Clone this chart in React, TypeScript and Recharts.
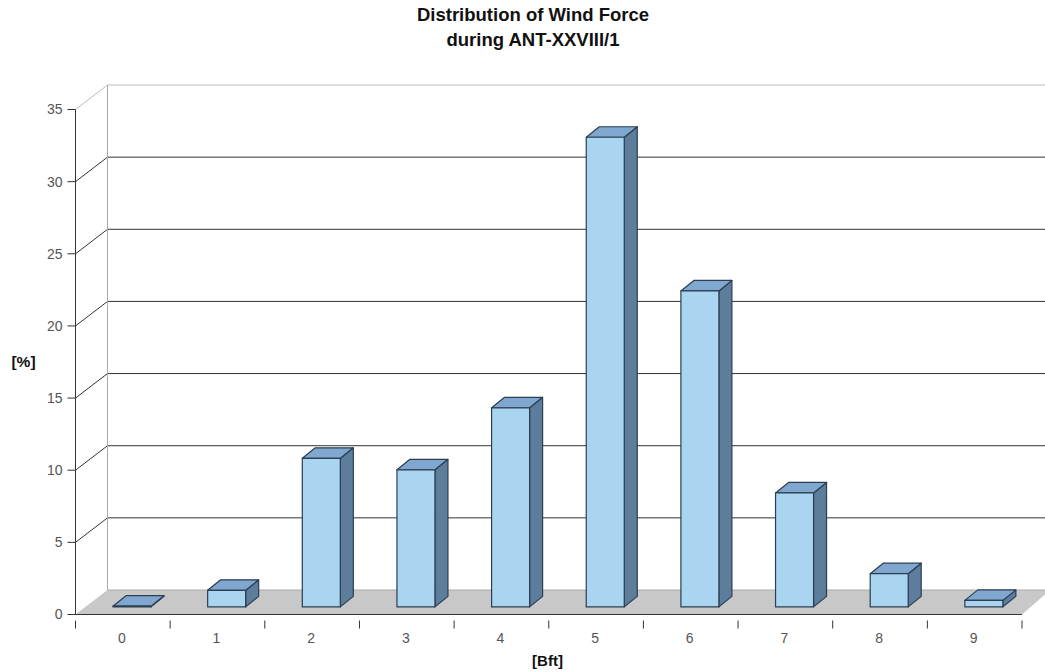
import { BarChart, Bar, XAxis, YAxis, CartesianGrid } from "recharts";

// Share of observations per Beaufort force, in percent.
const forces = ["0", "1", "2", "3", "4", "5", "6", "7", "8", "9"];
const shares = [0.05, 1.15, 10.3, 9.5, 13.8, 32.55, 21.9, 7.9, 2.3, 0.45];
const percentTicks = [0, 5, 10, 15, 20, 25, 30, 35];

const WIDTH = 1045;
const HEIGHT = 672;
const MARGIN = { top: 109.5, right: 23, bottom: 0, left: 0 };
const AXIS_LEFT = 75.5;
const AXIS_BOTTOM = 57.5;
const BAND = (WIDTH - AXIS_LEFT - MARGIN.right) / forces.length;

// Fake 3D: how far the back wall sits behind the front plane.
const WALL_DX = 32;
const WALL_DY = -24.5;
// Bars stand partway onto the floor and have their own depth.
const BAR_DX = 9.5;
const BAR_DY = -7.6;
const DEPTH_DX = 13;
const DEPTH_DY = -10.5;

const FONT = "'Liberation Sans', Arial, sans-serif";

type GridLineProps = { x1: number; y1: number; x2: number; y2: number; key?: string };

// Each tick gets a diagonal on the side wall and a line along the back wall.
// The zero tick becomes the floor, the top tick also closes the wall.
function WallLine(props: GridLineProps) {
  const { x1, y1 } = props;
  const backX = x1 + WALL_DX;
  const backY = y1 + WALL_DY;
  const zeroY = MARGIN.top + (HEIGHT - AXIS_BOTTOM - MARGIN.top);

  if (Math.abs(y1 - zeroY) < 1) {
    return (
      <g>
        <polygon
          points={`${x1},${y1} ${backX},${backY} ${WIDTH + 5},${backY} ${WIDTH - 23},${y1}`}
          fill="#c8c8c8"
        />
        <line x1={backX} y1={backY} x2={WIDTH} y2={backY} stroke="#aaaaaa" />
      </g>
    );
  }

  const isTop = y1 < MARGIN.top + 1;
  const color = isTop ? "#bbbbbb" : "#333333";
  return (
    <g>
      {isTop && <line x1={backX} y1={backY} x2={backX} y2={zeroY + WALL_DY} stroke="#aaaaaa" />}
      <line x1={x1} y1={y1} x2={backX} y2={backY} stroke={color} />
      <line x1={backX} y1={backY} x2={WIDTH} y2={backY} stroke={color} />
    </g>
  );
}

// Cuboid bar: front face, top face and right side face.
function Cuboid(props: any) {
  const x = props.x + BAR_DX;
  const y = props.y + BAR_DY;
  const w = props.width;
  const h = props.height;
  const edge = { stroke: "#2c3e50", strokeWidth: 1.2, strokeLinejoin: "round" as const };
  return (
    <g>
      <polygon
        points={`${x + w},${y} ${x + w + DEPTH_DX},${y + DEPTH_DY} ${x + w + DEPTH_DX},${y + h + DEPTH_DY} ${x + w},${y + h}`}
        fill="#5c7d9c"
        {...edge}
      />
      <polygon
        points={`${x},${y} ${x + DEPTH_DX},${y + DEPTH_DY} ${x + w + DEPTH_DX},${y + DEPTH_DY} ${x + w},${y}`}
        fill="#7fa7cf"
        {...edge}
      />
      <rect x={x} y={y} width={w} height={h} fill="#aad5f1" {...edge} />
    </g>
  );
}

// Axis ticks sit on the band boundaries, labels in the band centres.
function ForceTick(props: any) {
  const { x, y, payload, index } = props;
  const tickY = y - 8;
  return (
    <g>
      {index === 0 && (
        <line x1={x - BAND / 2} y1={tickY} x2={x - BAND / 2} y2={tickY + 8} stroke="#333333" />
      )}
      <line x1={x + BAND / 2} y1={tickY} x2={x + BAND / 2} y2={tickY + 8} stroke="#333333" />
      <text x={x - 1} y={y + 14} textAnchor="middle" fontFamily={FONT} fontSize={14} fill="#555555">
        {payload.value}
      </text>
    </g>
  );
}

export default function App() {
  const data = forces.map((force, i) => ({ force, share: shares[i] }));
  return (
    <div style={{ position: "absolute", left: 0, top: 0, width: WIDTH, height: HEIGHT, background: "#ffffff" }}>
      <BarChart width={WIDTH} height={HEIGHT} data={data} margin={MARGIN} barSize={38}>
        <text x={533} y={21} textAnchor="middle" fontFamily={FONT} fontSize={18.5} fontWeight="bold" fill="#111111">
          Distribution of Wind Force
        </text>
        <text x={533} y={46} textAnchor="middle" fontFamily={FONT} fontSize={18.5} fontWeight="bold" fill="#111111">
          during ANT-XXVIII/1
        </text>
        <text x={23.5} y={367} textAnchor="middle" fontFamily={FONT} fontSize={15.5} fontWeight="bold" fill="#111111">
          [%]
        </text>
        <text x={547.5} y={666} textAnchor="middle" fontFamily={FONT} fontSize={15} fontWeight="bold" fill="#111111">
          [Bft]
        </text>
        <CartesianGrid vertical={false} horizontal={(p: GridLineProps) => <WallLine key={p.key} {...p} />} />
        <XAxis
          dataKey="force"
          height={AXIS_BOTTOM}
          axisLine={{ stroke: "#333333" }}
          tickLine={false}
          tick={ForceTick}
          tickMargin={8}
          interval={0}
        />
        <YAxis
          width={AXIS_LEFT}
          domain={[0, 35]}
          ticks={percentTicks}
          axisLine={{ stroke: "#333333" }}
          tickLine={{ stroke: "#333333" }}
          tickSize={8}
          tickMargin={5}
          tick={{ fontFamily: FONT, fontSize: 14, fill: "#555555" }}
          interval={0}
        />
        <Bar dataKey="share" shape={Cuboid} isAnimationActive={false} />
      </BarChart>
    </div>
  );
}
